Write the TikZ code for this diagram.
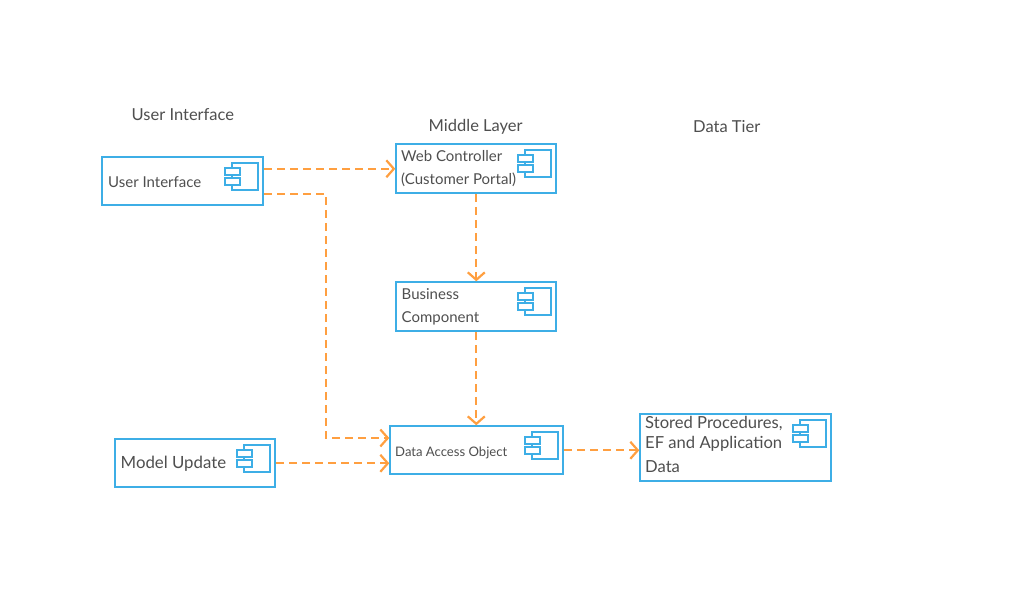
\documentclass[tikz,border=0pt]{standalone}
\usepackage{fontspec}
\setmainfont{Lato}
\usetikzlibrary{arrows.meta,calc}
\definecolor{boxblue}{HTML}{3DAEE6}
\definecolor{linkorange}{HTML}{FF9F40}
\definecolor{inkgrey}{HTML}{4F4F4F}
\tikzset{
  x=1pt,y=-1pt,
  compbox/.style={draw=boxblue,line width=2pt,fill=white,minimum width=#1,inner sep=0pt,anchor=north west},
  iconpart/.style={draw=boxblue,line width=1.7pt,fill=white},
  link/.style={draw=linkorange,line width=2.2pt,dash pattern=on 8pt off 5pt,-{Straight Barb[length=7.5pt,width=17pt,line width=2.2pt]}},
  plainlabel/.style={text=inkgrey,inner sep=0pt,anchor=west,align=left},
}
\newcommand{\compicon}[1]{%
  \draw[iconpart] ($(#1.north east)+(-32,6.5)$) rectangle ($(#1.north east)+(-6.5,33.5)$);
  \draw[iconpart] ($(#1.north east)+(-39.5,11.5)$) rectangle ($(#1.north east)+(-24,18.5)$);
  \draw[iconpart] ($(#1.north east)+(-39.5,21.5)$) rectangle ($(#1.north east)+(-24,28.5)$);
}
\begin{document}
\begin{tikzpicture}
\useasboundingbox (0,0) rectangle (1010,593);
\fill[white] (0,0) rectangle (1010,593);
% boxes
\node[compbox=161pt,minimum height=48pt] (ui) at (101.3,156.3) {};
\node[compbox=160pt,minimum height=49pt] (web) at (395.3,143.3) {};
\node[compbox=160pt,minimum height=49pt] (biz) at (395.3,281.3) {};
\node[compbox=173pt,minimum height=48pt] (dao) at (389.3,425.3) {};
\node[compbox=160pt,minimum height=48pt] (mu) at (114.3,438.3) {};
\node[compbox=191pt,minimum height=67pt] (sp) at (639.3,413.3) {};
\compicon{ui}\compicon{web}\compicon{biz}\compicon{dao}\compicon{mu}\compicon{sp}
% text
\node[plainlabel,font=\fontsize{16.5}{18}\selectfont] (t1) at (131.5,114.7) {User Interface};
\node[plainlabel,font=\fontsize{16.5}{18}\selectfont] (t2) at (428.5,127) {Middle Layer};
\node[plainlabel,font=\fontsize{16.5}{18}\selectfont] (t3) at (693,127) {Data Tier};
\node[plainlabel,font=\fontsize{15}{17}\selectfont] (l1) at (108,182) {User Interface};
\node[plainlabel,font=\fontsize{15}{23}\selectfont] (l2) at (401,168.7) {Web Controller\\(Customer Portal)};
\node[plainlabel,font=\fontsize{15}{22.5}\selectfont] (l3) at (401.5,306.7) {Business\\Component};
\node[plainlabel,font=\fontsize{13.1}{15}\selectfont] (l4) at (395,453) {Data Access Object};
\node[plainlabel,font=\fontsize{16.8}{19}\selectfont] (l5) at (120.5,463.3) {Model Update};
\node[plainlabel,font=\fontsize{16.6}{22}\selectfont] (l6) at (645,444) {Stored Procedures,\\[-2pt]EF and Application\\[2pt]Data};
% connectors
\coordinate (uilow) at ($(ui.north east)+(0,37.7)$);
\coordinate (bend) at (326,194);
\coordinate (daoup) at ($(dao.north west)+(0,12.7)$);
\coordinate (daolow) at ($(dao.north west)+(0,37)$);
\draw[link] (ui.east |- web.west) -- (web.west);
\draw[link] (uilow) -- (bend) -- (bend |- daoup) -- (daoup);
\draw[link] (web.south) -- (biz.north);
\draw[link] (biz.south) -- (biz.south |- dao.north);
\draw[link] (mu.east) -- (mu.east -| daolow);
\draw[link] (dao.east) -- (dao.east -| sp.west);
\end{tikzpicture}
\end{document}
